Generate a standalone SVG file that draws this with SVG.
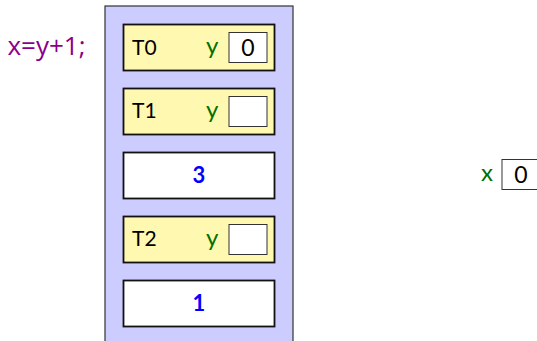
<svg xmlns="http://www.w3.org/2000/svg" width="537" height="341" viewBox="0 0 537 341">
<style>
.outer{fill:#ccccff;stroke:#333;stroke-width:1.2}
.thr{fill:#fff8b0;stroke:#111;stroke-width:1.8}
.msg{fill:#fff;stroke:#111;stroke-width:1.8}
.val{fill:#fff;stroke:#333;stroke-width:1}
.lbl{font-family:Lato,sans-serif;font-size:21px;fill:#000}
.var{font-family:Lato,sans-serif;font-size:24px;fill:#007000}
.num{font-family:Lato,sans-serif;font-size:23px;fill:#000;text-anchor:middle}
.bnum{font-family:Lato,sans-serif;font-size:22px;fill:#0000ff;text-anchor:middle;font-weight:bold}
.code{font-family:"Open Sans",sans-serif;font-size:26px;fill:#8b008b}
</style>
<text class="code" x="7.5" y="55">x=y+1;</text>
<g id="queue">
<rect class="outer" x="105" y="6" width="188" height="345"/>
</g>
<g id="t0">
<rect class="thr" x="123.5" y="24.5" width="151" height="46"/>
<text class="lbl" x="132" y="54.5">T0</text>
<text class="var" x="206" y="53.5">y</text>
<rect class="val" x="229" y="32.5" width="38" height="30"/>
<text class="num" x="248" y="55.5">0</text>
</g>
<g id="t1">
<rect class="thr" x="123.5" y="88.5" width="151" height="46"/>
<text class="lbl" x="132" y="118">T1</text>
<text class="var" x="206" y="117.5">y</text>
<rect class="val" x="229" y="96.5" width="38" height="30"/>
</g>
<g id="m3">
<rect class="msg" x="123.5" y="152.5" width="151" height="46"/>
<text class="bnum" x="199" y="183">3</text>
</g>
<g id="t2">
<rect class="thr" x="123.5" y="216.5" width="151" height="46"/>
<text class="lbl" x="132" y="246">T2</text>
<text class="var" x="206" y="245.5">y</text>
<rect class="val" x="229" y="224.5" width="38" height="30"/>
</g>
<g id="m1">
<rect class="msg" x="123.5" y="280.5" width="151" height="46"/>
<text class="bnum" x="199" y="311">1</text>
</g>
<g id="xvar">
<text class="var" x="481" y="180.5">x</text>
<rect class="val" x="502" y="159.5" width="40" height="30"/>
<text class="num" x="521" y="182.5">0</text>
</g>
<g id="connectors"/>
</svg>
